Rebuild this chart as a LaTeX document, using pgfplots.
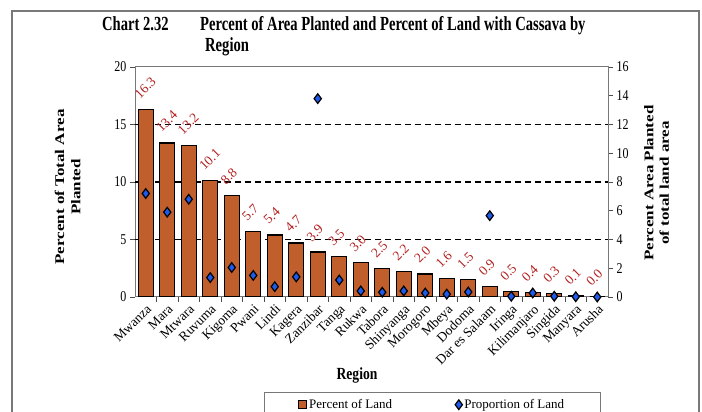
\documentclass[border=0pt]{standalone}
\usepackage{fontspec}
\usepackage{graphicx}
\setmainfont{Liberation Serif}
\newfontfamily\cfont[FakeStretch=0.8]{Liberation Serif}
\newfontfamily\tfont[FakeStretch=0.73]{Liberation Serif}
\usepackage{pgfplots}
\pgfplotsset{compat=1.18}
\definecolor{barfill}{RGB}{192,94,44}
\definecolor{diafill}{RGB}{30,90,235}
\definecolor{lblred}{RGB}{180,30,30}
\definecolor{axgray}{RGB}{120,120,120}
\pgfplotsset{dialegend/.style={legend image code/.code={\draw[##1] plot coordinates {(4pt,0pt)};}}}
\begin{document}
\begin{tikzpicture}
\useasboundingbox (0pt,0pt) rectangle (702pt,412pt);
\draw[axgray, line width=1.2pt] (12pt,-20pt) -- (12pt,401pt) -- (699pt,401pt) -- (699pt,-20pt);
% title
\node[anchor=base west, font=\tfont\bfseries\fontsize{20}{22}\selectfont, inner sep=0pt] at (102pt,381pt) {Chart 2.32};
\node[anchor=base west, font=\tfont\bfseries\fontsize{20}{22}\selectfont, inner sep=0pt] at (200pt,381pt) {Percent of Area Planted and Percent of Land with Cassava by};
\node[anchor=base west, font=\tfont\bfseries\fontsize{20}{22}\selectfont, inner sep=0pt] at (205pt,360pt) {Region};
% axis labels
\node[inner sep=0pt] at (69pt,225pt) {\scalebox{0.78}[1]{\rotatebox{90}{\bfseries\fontsize{17}{21}\selectfont\begin{tabular}{@{}c@{}}Percent of Total Area\\Planted\end{tabular}}}};
\node[inner sep=0pt] at (658pt,229pt) {\scalebox{0.78}[1]{\rotatebox{90}{\bfseries\fontsize{17}{20}\selectfont\begin{tabular}{@{}c@{}}Percent Area Planted\\of total land area\end{tabular}}}};
\node[font=\cfont\bfseries\fontsize{17}{19}\selectfont] at (357pt,37pt) {Region};
\begin{axis}[
  at={(135pt,115pt)}, anchor=south west,
  scale only axis, width=473pt, height=230pt,
  xmin=-0.5, xmax=21.5, ymin=0, ymax=20,
  /pgf/number format/assume math mode=true,
  ytick={0,5,...,20}, ytick pos=left, xtick pos=bottom,
  tick align=outside,
  xtick={0,...,21},
  xticklabels={Mwanza, Mara, Mtwara, Ruvuma, Kigoma, Pwani, Lindi, Kagera, Zanzibar, Tanga, Rukwa, Tabora, Shinyanga, Morogoro, Mbeya, Dodoma, Dar es Salaam, Iringa, Kilimanjaro, Singida, Manyara, Arusha},
  minor xtick={0.5,1.5,...,20.5},
  major x tick style={draw=none},
  minor x tick style={black!70, line width=0.8pt},
  minor tick length=5pt,
  major tick length=5pt,
  y tick style={black!70, line width=0.8pt},
  axis line style={axgray, line width=1pt},
  extra y ticks={5,10,15}, extra y tick labels={},
  extra y tick style={grid=major, major tick length=0pt},
  grid style={black, line width=1.4pt, dash pattern=on 6pt off 4pt},
  xticklabel style={rotate=45, anchor=north east, inner sep=1pt, font=\fontsize{13.5}{13.5}\selectfont},
  yticklabel style={font=\cfont\fontsize{15}{15}\selectfont},
  ybar, bar width=15pt,
  nodes near coords={\pgfmathprintnumber[fixed, fixed zerofill, precision=1]{\pgfplotspointmeta}},
  every node near coord/.append style={xshift=-10pt, yshift=12pt, rotate=45, anchor=west, inner sep=1pt, text=lblred, font=\fontsize{13.5}{13.5}\selectfont},
]
\addplot[fill=barfill, draw=black, line width=1.3pt] coordinates {
(0,16.3)(1,13.4)(2,13.2)(3,10.1)(4,8.8)(5,5.7)(6,5.4)(7,4.7)(8,3.9)(9,3.5)(10,3.0)(11,2.5)(12,2.2)(13,2.0)(14,1.6)(15,1.5)(16,0.9)(17,0.5)(18,0.4)(19,0.3)(20,0.1)(21,0.0)};
\end{axis}
\begin{axis}[
  at={(135pt,115pt)}, anchor=south west,
  scale only axis, width=473pt, height=230pt,
  xmin=-0.5, xmax=21.5, ymin=0, ymax=16,
  /pgf/number format/assume math mode=true,
  hide x axis,
  axis y line*=right,
  ytick={0,2,...,16},
  tick align=outside, major tick length=5pt,
  y tick style={black!70, line width=0.8pt},
  axis line style={axgray, line width=1pt},
  yticklabel style={font=\cfont\fontsize{15}{15}\selectfont},
  legend columns=2,
  legend style={at={(0.2727,-0.413)}, anchor=north west, draw=axgray, line width=0.8pt,
    inner xsep=34pt, inner ysep=5pt, font=\fontsize{13}{15}\selectfont,
    /tikz/every even column/.append style={column sep=61pt}},
]
\addlegendimage{legend image code/.code={\draw[fill=barfill, draw=black, line width=0.8pt] (0pt,-4pt) rectangle (8pt,4pt);}}
\addlegendentry{Percent of Land}
\addplot[only marks, mark=diamond*, mark size=4.8pt, mark options={fill=diafill, draw=black, line width=1.2pt}, dialegend] coordinates {
(0,7.2)(1,5.9)(2,6.8)(3,1.35)(4,2.05)(5,1.5)(6,0.72)(7,1.4)(8,13.8)(9,1.18)(10,0.42)(11,0.33)(12,0.42)(13,0.28)(14,0.2)(15,0.35)(16,5.66)(17,0.05)(18,0.28)(19,0.05)(20,0.02)(21,0.0)};
\addlegendentry{Proportion of Land}
\end{axis}
\end{tikzpicture}
\end{document}
